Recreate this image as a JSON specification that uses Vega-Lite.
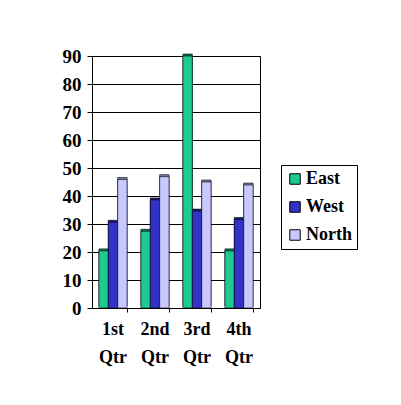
{
  "$schema": "https://vega.github.io/schema/vega-lite/v6.json",
  "width": 168,
  "height": 252,
  "autosize": "none",
  "padding": {"left": 92, "top": 56, "right": 141, "bottom": 97},
  "background": "white",
  "data": {"values": [
    {"qtr": "1st Qtr", "region": "East", "value": 20.4},
    {"qtr": "2nd Qtr", "region": "East", "value": 27.4},
    {"qtr": "3rd Qtr", "region": "East", "value": 90},
    {"qtr": "4th Qtr", "region": "East", "value": 20.4},
    {"qtr": "1st Qtr", "region": "West", "value": 30.6},
    {"qtr": "2nd Qtr", "region": "West", "value": 38.6},
    {"qtr": "3rd Qtr", "region": "West", "value": 34.6},
    {"qtr": "4th Qtr", "region": "West", "value": 31.6},
    {"qtr": "1st Qtr", "region": "North", "value": 45.9},
    {"qtr": "2nd Qtr", "region": "North", "value": 46.9},
    {"qtr": "3rd Qtr", "region": "North", "value": 45},
    {"qtr": "4th Qtr", "region": "North", "value": 43.9}
  ]},
  "encoding": {
    "x": {
      "field": "qtr", "type": "nominal", "sort": null,
      "scale": {"paddingInner": 0.33, "paddingOuter": 0.165},
      "axis": {
        "title": null, "labelAngle": 0, "bandPosition": 1,
        "labelExpr": "split(datum.label, ' ')",
        "labelFont": "Liberation Serif", "labelFontSize": 18, "labelFontWeight": "bold",
        "labelColor": "black", "labelLineHeight": 28, "labelPadding": 8,
        "tickColor": "black", "tickSize": 4, "domainColor": "black"
      }
    },
    "xOffset": {"field": "region", "type": "nominal", "sort": ["East", "West", "North"], "scale": {"paddingInner": 0, "paddingOuter": 0}},
    "y": {
      "field": "value", "type": "quantitative",
      "scale": {"domain": [0, 90], "nice": false},
      "axis": {
        "title": null, "values": [0, 10, 20, 30, 40, 50, 60, 70, 80, 90],
        "labelFont": "Liberation Serif", "labelFontSize": 19, "labelFontWeight": "bold",
        "labelColor": "black", "labelPadding": 6, "tickColor": "black", "tickSize": 5,
        "gridColor": "black", "gridWidth": 1, "gridOpacity": 1, "domainColor": "black"
      }
    }
  },
  "layer": [
    {
      "mark": {"type": "bar", "xOffset": 3, "yOffset": -2, "stroke": "#000", "strokeWidth": 0.6},
      "encoding": {
        "color": {
          "field": "region", "type": "nominal", "sort": ["East", "West", "North"],
          "scale": {"domain": ["East", "West", "North"], "range": ["#0c7a57", "#1b1b78", "#7a7aa8"]},
          "legend": null
        }
      }
    },
    {
      "mark": {"type": "bar", "stroke": "#000", "strokeWidth": 0.6},
      "encoding": {
        "color": {
          "field": "region", "type": "nominal", "sort": ["East", "West", "North"],
          "scale": {"domain": ["East", "West", "North"], "range": ["#1fca92", "#3232c8", "#c8c8ff"]},
          "legend": {
            "title": null, "orient": "none", "legendX": 189, "legendY": 109,
            "strokeColor": "black", "fillColor": "white", "padding": 5,
            "labelFont": "Liberation Serif", "labelFontSize": 18, "labelFontWeight": "bold", "labelColor": "black",
            "symbolType": "square", "symbolSize": 110, "symbolStrokeColor": "black", "symbolStrokeWidth": 1,
            "rowPadding": 10, "labelOffset": 2
          }
        }
      }
    }
  ],
  "resolve": {"scale": {"color": "independent"}},
  "config": {
    "view": {"stroke": "black", "strokeWidth": 1}
  }
}
